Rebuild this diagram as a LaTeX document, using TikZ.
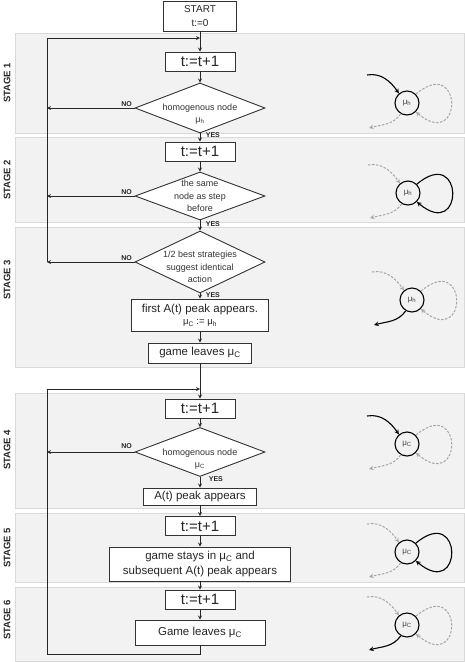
\documentclass[tikz,border=0pt]{standalone}
\usepackage{fontspec}
\setmainfont{Liberation Sans}
\usetikzlibrary{arrows,shapes.geometric}

\newcommand{\muh}{μ\textsubscript{h}}
\newcommand{\muc}{μ\textsubscript{C}}

\begin{document}
\begin{tikzpicture}[
  x=1pt, y=1pt,
  panel/.style={draw=black!15, fill=black!5, line width=0.8pt},
  stagelabel/.style={rotate=90, font=\fontsize{9.5}{11}\selectfont\bfseries, text=black!85},
  box/.style={draw=black!80, line width=0.9pt, fill=white, align=center, inner sep=1pt, font=\fontsize{11.5}{14.5}\selectfont, text=black!85},
  tick/.style={box, minimum width=70pt, minimum height=19pt, font=\fontsize{15}{16}\selectfont},
  decision/.style={diamond, draw=black!80, line width=0.9pt, fill=white, minimum width=130pt, inner sep=0pt},
  decisiontext/.style={align=center, font=\fontsize{9}{12.5}\selectfont, text=black!80, inner sep=0pt},
  flow/.style={draw=black!85, line width=0.8pt, ->, >=stealth},
  answer/.style={font=\fontsize{7}{8}\selectfont\bfseries, text=black!85, inner sep=1.5pt},
  state/.style={circle, draw, line width=1.1pt, minimum size=24pt, inner sep=0pt, font=\fontsize{8}{9}\selectfont, text=black!75},
  live/.style={->, >=stealth, line width=1.1pt, black},
  idle/.style={->, >=stealth, line width=1pt, dash pattern=on 2.5pt off 1.5pt, black!35}
]
\useasboundingbox (0,0) rectangle (465,-662);

% stage panels
\foreach \top/\bot in {33/133, 137/222, 227/367, 393/508, 513/582, 587/661}
  \draw[panel] (15,-\top) rectangle (464.5,-\bot);

\node[stagelabel] (s1) at (7,-83) {STAGE 1};
\node[stagelabel] (s2) at (7,-180) {STAGE 2};
\node[stagelabel] (s3) at (7,-280) {STAGE 3};
\node[stagelabel] (s4) at (7,-450) {STAGE 4};
\node[stagelabel] (s5) at (7,-548) {STAGE 5};
\node[stagelabel] (s6) at (7,-620) {STAGE 6};

% first loop
\node[box, minimum width=73pt, minimum height=30pt, font=\fontsize{10}{14}\selectfont] (start) at (200,-16) {START\\t:=0};
\node[tick] (t1) at (200,-61.5) {t:=t+1};
\node[decision, minimum height=50pt, label={[decisiontext, yshift=-6pt]center:homogenous node\\\muh}] (d1) at (200,-108) {};
\node[tick] (t2) at (200,-151.5) {t:=t+1};
\node[decision, minimum height=48pt, label={[decisiontext]center:the same\\node as step\\before}] (d2) at (200,-196) {};
\node[decision, minimum height=62pt, label={[decisiontext, yshift=-5pt]center:1/2 best strategies\\suggest identical\\action}] (d3) at (200,-262) {};
\node[box, minimum width=137pt, minimum height=32pt] (peak1) at (200,-315) {first A(t) peak appears.\\[-2pt]{\fontsize{9.5}{10}\selectfont\muc{} := \muh}};
\node[box, minimum width=103pt, minimum height=20pt] (leave1) at (200,-353) {game leaves \muc};

% second loop
\node[tick] (t4) at (200,-408.5) {t:=t+1};
\node[decision, minimum height=49pt, label={[decisiontext, yshift=-7pt]center:homogenous node\\\muc}] (d4) at (200,-452) {};
\node[box, minimum width=113pt, minimum height=17pt] (peak4) at (200,-496.5) {A(t) peak appears};
\node[tick] (t5) at (200,-526) {t:=t+1};
\node[box, minimum width=181pt, minimum height=34pt] (stay5) at (200,-564) {game stays in \muc{} and\\subsequent A(t) peak appears};
\node[tick] (t6) at (200,-599.5) {t:=t+1};
\node[box, minimum width=130pt, minimum height=25pt] (leave6) at (200,-632.5) {Game leaves \muc};

\coordinate (loopA) at (47,-38);
\coordinate (joinA) at (200,-38);
\coordinate (loopB) at (47,-389);
\coordinate (joinB) at (200,-389);
\coordinate (turnB) at (200,-654);

\draw[flow] (start) -- (t1);
\draw[flow] (t1) -- (d1);
\draw[flow] (d1) -- node[answer, right, pos=0.25, xshift=4pt] {YES} (t2);
\draw[flow] (t2) -- (d2);
\draw[flow] (d2) -- node[answer, right, pos=0.4, xshift=4pt] {YES} (d3);
\draw[flow] (d3) -- node[answer, right, pos=0.3, xshift=4pt] {YES} (peak1);
\draw[flow] (peak1) -- (leave1);
\draw[flow] (leave1) -- (t4);
\draw[flow] (d1.west) -- node[answer, above, pos=0.09] {NO} (d1.west -| loopA);
\draw[flow] (d2.west) -- node[answer, above, pos=0.09] {NO} (d2.west -| loopA);
\draw[flow] (d3.west) -- node[answer, above, pos=0.09] {NO} (d3.west -| loopA);
\draw[flow] (d3.west -| loopA) -- (loopA) -- (joinA);

\draw[flow] (t4) -- (d4);
\draw[flow] (d4) -- node[answer, right, pos=0.2, xshift=7pt] {YES} (peak4);
\draw[flow] (peak4) -- (t5);
\draw[flow] (t5) -- (stay5);
\draw[flow] (stay5) -- (t6);
\draw[flow] (t6) -- (leave6);
\draw[flow] (d4.west) -- node[answer, above, pos=0.09, yshift=2pt] {NO} (d4.west -| loopB);
\draw[flow] (leave6) -- (turnB) -| (loopB) -- (joinB);

% little state sketches on the right
\foreach \cx/\cy/\sub/\instyle/\loopstyle/\outstyle in {407/103/h/live/idle/idle, 408/193/h/idle/live/idle, 412/300/h/idle/idle/live, 407/444/C/live/idle/idle, 407/552/C/idle/live/idle, 407/625/C/idle/idle/live}
{
  \node[state] (m\cy) at (\cx,-\cy) {μ\textsubscript{\sub}};
  \coordinate (from\cy) at (\cx-40,-\cy+28);
  \coordinate (to\cy) at (\cx-38,-\cy-25);
  \draw[\instyle] (from\cy) to[out=10, in=125] (m\cy.130);
  \draw[\loopstyle] (m\cy.45) .. controls +(40:62) and +(-40:62) .. (m\cy.-45);
  \draw[\outstyle] (m\cy.-120) to[out=-125, in=15] (to\cy);
}

\end{tikzpicture}
\end{document}
